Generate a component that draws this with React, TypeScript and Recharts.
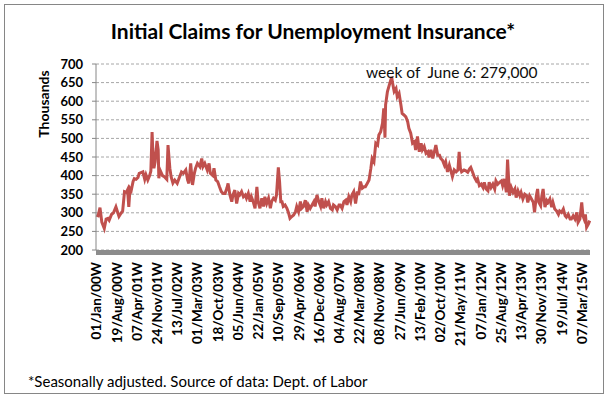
import React from "react";
import { LineChart, Line, XAxis, YAxis, CartesianGrid } from "recharts";

// week index counted from 01/Jan/2000 (weekly, seasonally adjusted, thousands)
const weeks = [
  0, 3, 6, 9, 13, 16, 19, 21, 25, 28, 32, 37, 40, 43, 46, 49, 51, 53, 55, 57,
  60, 62, 65, 68, 70, 73, 76, 79, 81, 84, 87, 89, 91, 92, 94, 96, 99, 101, 102, 104,
  108, 111, 115, 117, 120, 122, 125, 128, 132, 135, 139, 142, 146, 149, 151, 154, 157, 160, 162, 165,
  169, 172, 174, 177, 181, 184, 186, 190, 192, 195, 198, 201,
  204, 207, 210, 213, 215, 218, 221, 223, 226, 229, 232, 234, 237, 240, 243, 245, 248, 251, 253, 256,
  259, 262, 264, 267, 270, 273, 275, 278, 281, 284, 286, 289, 292, 294, 297, 299, 301, 303, 305, 308,
  311, 314, 316, 319, 322, 325, 327, 330, 333, 335, 338, 341, 344, 346, 349, 352, 355, 357, 360, 363,
  366, 368, 371, 374, 376, 379, 382, 385, 387, 390, 393, 396, 398, 401, 404,
  407, 409, 412, 415, 417, 420, 423, 426, 428, 431, 434, 437, 439, 442, 445, 448, 450, 453, 456, 459,
  461, 464, 467, 469, 471, 472, 475, 478, 482, 483, 486, 489, 491, 494, 497, 499, 502, 505, 508, 510,
  513, 516, 519, 521, 524, 527, 530, 532, 535, 538, 541, 543, 546, 549, 551, 554, 557, 560, 562, 565,
  568, 570, 573, 576, 579, 581, 584, 587, 590, 592, 594, 596, 600,
  603, 606, 609, 611, 614, 617, 620, 622, 625, 628, 631, 633, 636, 639, 641, 644, 647, 650, 652, 655,
  658, 661, 663, 666, 669, 671, 673, 674, 677, 680, 683, 685, 688, 691, 693, 696, 699, 702, 704, 707,
  710, 713, 715, 718, 720, 722, 725, 727, 729, 732, 735, 737, 740, 743, 745, 748, 751, 754, 756, 759,
  762, 765, 767, 770, 773, 775, 778, 781, 784, 786, 789, 792, 794, 796, 798, 800, 803, 805,
];

const claims = [
  294, 292, 314, 275, 258, 283, 285, 280, 296, 300, 316, 290, 298, 305, 357, 355, 362, 316, 365, 360,
  384, 392, 390, 395, 406, 408, 410, 390, 402, 388, 400, 412, 517, 473, 420, 437, 493, 469, 393, 415,
  400, 397, 390, 482, 420, 397, 380, 388, 379, 393, 410, 406, 415, 388, 379, 433, 375, 406, 420, 433,
  424, 446, 424, 433, 415, 433, 406, 400, 420, 388, 384, 370,
  357, 352, 352, 366, 379, 348, 330, 348, 361, 325, 352, 348, 357, 343, 348, 339, 352, 330, 343, 330,
  312, 370, 330, 312, 339, 317, 343, 325, 339, 312, 330, 339, 334, 348, 422, 384, 330, 330, 317, 321,
  312, 298, 285, 290, 294, 303, 317, 303, 330, 312, 317, 334, 303, 321, 312, 321, 330, 317, 348, 330,
  317, 339, 312, 330, 321, 330, 312, 308, 321, 317, 308, 321, 321, 312, 330,
  334, 321, 343, 330, 348, 357, 325, 357, 348, 384, 366, 370, 370, 379, 388, 420, 446, 437, 487, 482,
  509, 518, 541, 581, 502, 590, 626, 643, 665, 652, 626, 634, 612, 621, 590, 567, 563, 558, 545, 527,
  514, 487, 491, 469, 505, 464, 487, 469, 478, 460, 464, 449, 469, 446, 460, 482, 455, 455, 446, 441,
  428, 437, 410, 428, 410, 397, 415, 410, 415, 464, 420, 410, 415,
  413, 409, 418, 422, 409, 395, 386, 391, 373, 377, 368, 382, 364, 359, 382, 368, 377, 364, 386, 377,
  382, 386, 373, 391, 355, 443, 382, 346, 368, 355, 364, 341, 359, 346, 355, 337, 350, 346, 328, 346,
  337, 328, 301, 346, 364, 328, 319, 346, 364, 315, 333, 328, 337, 315, 328, 310, 305, 296, 305, 301,
  310, 292, 288, 296, 283, 283, 292, 283, 301, 274, 283, 328, 292, 283, 296, 261, 270, 279,
];

const xTickLabels = [
  "01/Jan/00W", "19/Aug/00W", "07/Apr/01W", "24/Nov/01W", "13/Jul/02W",
  "01/Mar/03W", "18/Oct/03W", "05/Jun/04W", "22/Jan/05W", "10/Sep/05W",
  "29/Apr/06W", "16/Dec/06W", "04/Aug/07W", "22/Mar/08W", "08/Nov/08W",
  "27/Jun/09W", "13/Feb/10W", "02/Oct/10W", "21/May/11W", "07/Jan/12W",
  "25/Aug/12W", "13/Apr/13W", "30/Nov/13W", "19/Jul/14W", "07/Mar/15W",
];
const xTickWeeks = xTickLabels.map((_, i) => i * 33);
const yTicks = [200, 250, 300, 350, 400, 450, 500, 550, 600, 650, 700];

const data = weeks.map((w, i) => ({ week: w, claims: claims[i] }));

const FONT = "Lato, 'DejaVu Sans', sans-serif";

const XTick = ({ x, y, payload }: { x?: number; y?: number; payload?: { value: number } }) => {
  const label = xTickLabels[xTickWeeks.indexOf(payload?.value ?? -1)];
  return (
    <text
      x={x}
      y={y}
      transform={`rotate(-90 ${x} ${y})`}
      textAnchor="end"
      dominantBaseline="central"
      fontSize={13.5}
      fontWeight="bold"
      fontFamily={FONT}
      fill="#000"
    >
      {label}
    </text>
  );
};

export default function App() {
  return (
    <div
      style={{
        position: "absolute",
        left: 0,
        top: 0,
        width: 610,
        height: 398,
        background: "#fff",
        fontFamily: FONT,
      }}
    >
      <div
        style={{
          position: "absolute",
          left: 4,
          top: 4,
          width: 598,
          height: 388,
          border: "1px solid #868686",
        }}
      />
      <div
        style={{
          position: "absolute",
          left: 313,
          top: 19,
          transform: "translateX(-50%)",
          whiteSpace: "nowrap",
          fontSize: 21,
          lineHeight: "24px",
          fontWeight: "bold",
          color: "#000",
        }}
      >
        Initial Claims for Unemployment Insurance*
      </div>
      <div
        style={{
          position: "absolute",
          left: 43,
          top: 104,
          transform: "translate(-50%, -50%) rotate(-90deg)",
          whiteSpace: "nowrap",
          fontSize: 14,
          fontWeight: "bold",
          color: "#000",
        }}
      >
        Thousands
      </div>
      <LineChart
        width={610}
        height={398}
        data={data}
        margin={{ top: 64, right: 20, bottom: 48, left: 46 }}
        style={{ position: "absolute", left: 0, top: 0 }}
      >
        <CartesianGrid vertical={false} stroke="#a6a6a6" strokeDasharray="3 2" />
        <XAxis
          dataKey="week"
          type="number"
          domain={[-0.5, 805.5]}
          ticks={xTickWeeks}
          interval={0}
          height={100}
          tickLine={false}
          tickSize={0}
          tickMargin={12}
          axisLine={{ stroke: "#8c8c8c", strokeWidth: 5, transform: "translate(0,2.5)" }}
          tick={<XTick />}
        />
        <YAxis
          domain={[200, 700]}
          ticks={yTicks}
          interval={0}
          width={50}
          tickSize={4}
          tickMargin={9}
          axisLine={{ stroke: "#868686" }}
          tickLine={{ stroke: "#868686" }}
          tick={{ fontSize: 13, fontWeight: "bold", fill: "#000", fontFamily: FONT }}
        />
        <Line
          type="linear"
          dataKey="claims"
          stroke="#C0504D"
          strokeWidth={3}
          dot={false}
          isAnimationActive={false}
        />
      </LineChart>
      <div
        style={{
          position: "absolute",
          left: 366,
          top: 63,
          whiteSpace: "nowrap",
          fontSize: 15.5,
          lineHeight: "18px",
          color: "#0d0d0d",
        }}
      >
        week of&nbsp; June 6: 279,000
      </div>
      <div
        style={{
          position: "absolute",
          left: 28,
          top: 372,
          whiteSpace: "nowrap",
          fontSize: 15,
          lineHeight: "18px",
          color: "#000",
        }}
      >
        *Seasonally adjusted. Source of data: Dept. of Labor
      </div>
    </div>
  );
}
